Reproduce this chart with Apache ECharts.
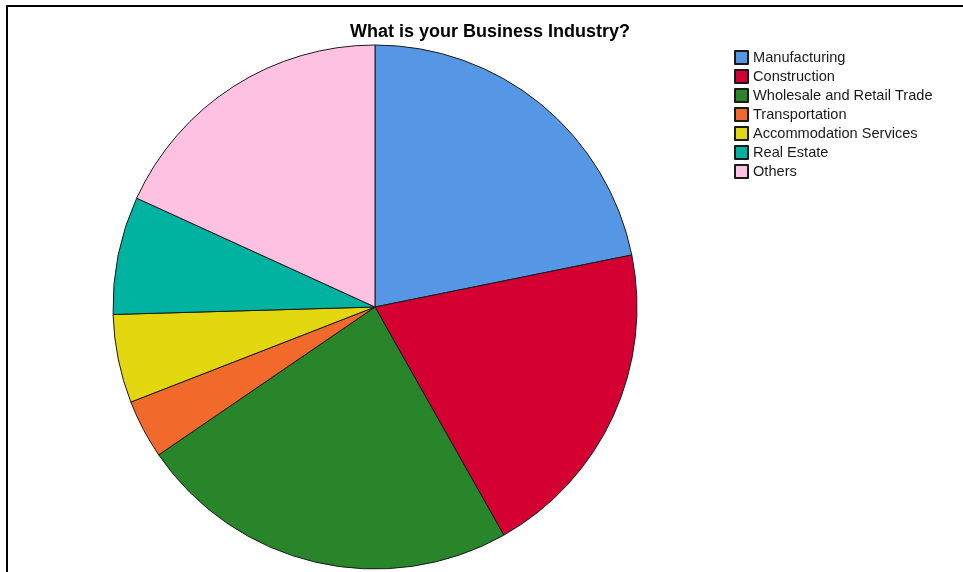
<!DOCTYPE html>
<html>
<head>
<meta charset="utf-8">
<script src="https://cdn.jsdelivr.net/npm/echarts@6/dist/echarts.min.js"></script>
<style>
  html, body { margin: 0; padding: 0; background: #ffffff; }
  #chart { width: 963px; height: 572px; }
</style>
</head>
<body>
<div id="chart"></div>
<script>
// Survey responses by business industry (counts)
const categories = [
  'Manufacturing',
  'Construction',
  'Wholesale and Retail Trade',
  'Transportation',
  'Accommodation Services',
  'Real Estate',
  'Others'
];
const counts = [12, 11, 13, 2, 3, 4, 10];
const sliceColors = ['#5597E5', '#D40032', '#29852A', '#F2692C', '#E3D710', '#00B2A0', '#FEC1E1'];

const chart = echarts.init(document.getElementById('chart'), null, { renderer: 'canvas' });

chart.setOption({
  animation: false,
  backgroundColor: '#ffffff',
  title: {
    text: 'What is your Business Industry?',
    left: 490,
    textAlign: 'center',
    top: 23,
    padding: 0,
    textStyle: {
      fontFamily: 'Liberation Sans, Arial, sans-serif',
      fontSize: 18,
      fontWeight: 'bold',
      color: '#000000'
    }
  },
  legend: {
    orient: 'vertical',
    left: 734,
    top: 50,
    padding: 0,
    itemWidth: 13,
    itemHeight: 13,
    itemGap: 4,
    icon: 'rect',
    data: categories,
    textStyle: {
      fontFamily: 'Liberation Sans, Arial, sans-serif',
      fontSize: 14.6,
      lineHeight: 13,
      color: '#1a1a1a'
    }
  },
  graphic: [
    {
      type: 'polyline',
      shape: { points: [[7, 572], [7, 6], [963, 6]] },
      style: { stroke: '#000000', lineWidth: 2, fill: null },
      silent: true,
      z: 10
    }
  ],
  series: [
    {
      type: 'pie',
      center: [375, 307],
      radius: 262,
      startAngle: 90,
      clockwise: true,
      label: { show: false },
      labelLine: { show: false },
      emphasis: { disabled: true },
      itemStyle: { borderColor: '#1a1a1a', borderWidth: 1 },
      data: categories.map((name, i) => ({
        name: name,
        value: counts[i],
        itemStyle: { color: sliceColors[i] }
      }))
    }
  ]
});
</script>
</body>
</html>
